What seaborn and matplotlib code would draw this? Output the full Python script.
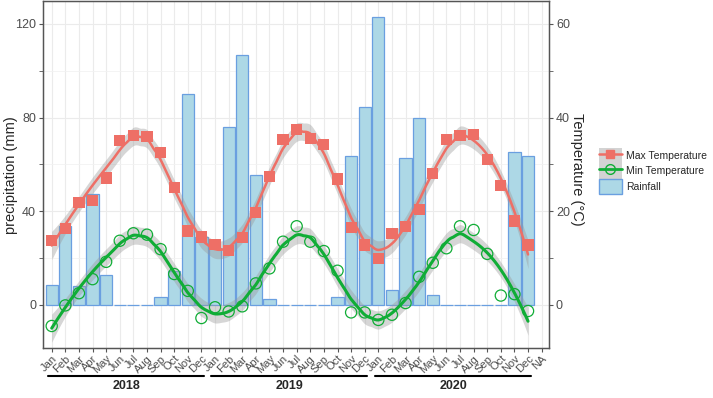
import numpy as np
import pandas as pd
import matplotlib.pyplot as plt
import seaborn as sns
from matplotlib.lines import Line2D
from matplotlib.patches import Patch

#%% DATA

month_names = ['Jan', 'Feb', 'Mar', 'Apr', 'May', 'Jun',
               'Jul', 'Aug', 'Sep', 'Oct', 'Nov', 'Dec']
years = ['2018', '2019', '2020']
tick_labels = month_names * 3 + ['NA']

# monthly rainfall (mm), last entry is the NA category
rainfall = [8.5, 33.7, 8.0, 47.5, 12.6, 0, 0, 0, 3.3, 14.6, 90.2, 28.8,
            24.1, 76.2, 106.9, 55.3, 2.4, 0, 0, 0, 0, 3.5, 63.8, 84.7,
            123.0, 6.4, 62.6, 79.9, 4.4, 0, 0, 0, 0, 0, 65.5, 63.5,
            np.nan]

# max / min temperature (deg C)
max_temp = [13.8, 16.4, 21.8, 22.3, 27.1, 35.1, 36.1, 36.0, 32.6, 25.0, 15.8, 14.5,
            12.9, 11.7, 14.4, 19.7, 27.4, 35.3, 37.5, 35.5, 34.3, 26.9, 16.6, 12.8,
            9.9, 15.3, 16.8, 20.4, 28.1, 35.3, 36.2, 36.4, 31.0, 25.5, 17.9, 12.8]
min_temp = [-4.5, -0.1, 2.5, 5.5, 9.2, 13.7, 15.3, 15.0, 11.9, 6.6, 3.0, -2.8,
            -0.5, -1.4, -0.3, 4.6, 7.8, 13.5, 16.8, 13.5, 11.5, 7.3, -1.6, -1.6,
            -3.2, -2.1, 0.4, 6.0, 9.0, 12.1, 16.8, 16.0, 10.9, 2.0, 2.3, -1.3]

rain_df = pd.DataFrame({'cat': [f'{i:02d}' for i in range(len(rainfall))],
                        'Rainfall': rainfall})
temp_df = pd.DataFrame({'pos': np.arange(len(max_temp)),
                        'Max': max_temp, 'Min': min_temp})

#%% LOESS SMOOTH (local quadratic, tricube weights) with 95% band

def loess(x, y, xs, span=0.28, deg=2):
    n = len(x)
    k = int(np.ceil(span * n))

    def row(x0):
        d = np.abs(x - x0)
        h = np.sort(d)[k - 1] * 1.0001
        w = np.clip(1 - (d / h) ** 3, 0, None) ** 3
        X = np.vander(x - x0, deg + 1, increasing=True)
        XtW = X.T * w
        return np.linalg.solve(XtW @ X, XtW)[0]

    L = np.array([row(v) for v in x])
    resid = y - L @ y
    dof = n - np.trace(L)
    sigma = np.sqrt(np.sum(resid ** 2) / dof)
    Ls = np.array([row(v) for v in xs])
    fit = Ls @ y
    se = sigma * np.sqrt(np.sum(Ls ** 2, axis=1))
    return fit, 2.03 * se

#%% PLOT

sns.set_style('white')
plt.rcParams['font.family'] = ['Liberation Sans', 'DejaVu Sans']

fig = plt.figure(figsize=(7.13, 3.98), dpi=100)
ax = fig.add_axes([43 / 713, 50 / 398, 506 / 713, 347 / 398])

red = '#EE6F66'
green = '#10AD36'

sns.barplot(data=rain_df, x='cat', y='Rainfall', ax=ax, width=0.9,
            color='#ADD8E6', edgecolor='#6A9FE0', linewidth=0.9,
            saturation=1, zorder=2)

ax.set_xlim(-0.64, 36.54)
ax.set_ylim(-18.4, 129.8)
ax.set_yticks([0, 40, 80, 120])
ax.set_yticks([20, 60, 100], minor=True)
ax.set_xticks(np.arange(len(tick_labels)))
ax.set_xticklabels(tick_labels, rotation=45, ha='right',
                   rotation_mode='anchor', fontsize=8, color='#4D4D4D')
ax.tick_params(axis='y', which='both', labelsize=9, labelcolor='#4D4D4D',
               length=3, color='#555555', left=True, pad=2)
ax.tick_params(axis='x', length=3, color='#555555', bottom=True, pad=1)
ax.grid(True, which='major', color='#EBEBEB', lw=0.8, zorder=0)
ax.grid(True, which='minor', axis='y', color='#F2F2F2', lw=0.6, zorder=0)
ax.set_axisbelow(True)
ax.set_xlabel('')
ax.set_ylabel('')
for s in ax.spines.values():
    s.set_color('#555555')
    s.set_linewidth(1)

# secondary axis for temperature (ylim = primary / 2)
ax2 = ax.twinx()

x = temp_df['pos'].to_numpy(float)
xs = np.linspace(x.min(), x.max(), 300)
for col, c in [('Max', red), ('Min', green)]:
    fit, band = loess(x, temp_df[col].to_numpy(float), xs)
    ax2.fill_between(xs, fit - band, fit + band, color='#999999',
                     alpha=0.4, lw=0, zorder=3)
    ax2.plot(xs, fit, color=c, lw=1.8 if col == 'Max' else 2.2, zorder=4)

sns.scatterplot(data=temp_df, x='pos', y='Max', ax=ax2, marker='s', s=65,
                color=red, edgecolor='none', zorder=5)
sns.scatterplot(data=temp_df, x='pos', y='Min', ax=ax2, marker='o', s=65,
                facecolor='none', edgecolor=green, linewidth=0.9, zorder=5)

ax2.set_xlim(-0.64, 36.54)
ax2.set_ylim(-18.4 / 2, 129.8 / 2)
ax2.set_yticks([0, 20, 40, 60])
ax2.set_yticks([10, 30, 50], minor=True)
ax2.tick_params(axis='y', which='both', labelsize=9, labelcolor='#4D4D4D',
                length=3, color='#555555', right=True, pad=2)
ax2.set_xlabel('')
ax2.set_ylabel('')
for s in ax2.spines.values():
    s.set_color('#555555')

fig.text(11 / 713, 0.56, 'precipitation (mm)', rotation=90, fontsize=10.5,
         ha='center', va='center')
fig.text(577 / 713, 0.575, 'Temperature (°C)', rotation=-90, fontsize=10.5,
         ha='center', va='center')

# year groups under the month labels
trans = ax.get_xaxis_transform()
for i, yr in enumerate(years):
    start, end = i * 12, i * 12 + 11
    ax.plot([start - 0.27, end + 0.2], [-0.081, -0.081], color='black',
            lw=1.5, transform=trans, clip_on=False)
    ax.text((start + end) / 2, -0.11, yr, transform=trans, ha='center',
            va='center', fontsize=9, fontweight='bold')

# legend
handles = [(Patch(facecolor='#D3D3D3', edgecolor='none'),
            Line2D([], [], color=red, lw=1.8, marker='s', markersize=6)),
           (Patch(facecolor='#D3D3D3', edgecolor='none'),
            Line2D([], [], color=green, lw=2, marker='o', markersize=7,
                   markerfacecolor='none')),
           Patch(facecolor='#ADD8E6', edgecolor='#6A9FE0')]
fig.legend(handles, ['Max Temperature', 'Min Temperature', 'Rainfall'],
           loc='center left', bbox_to_anchor=(0.84, 0.57), frameon=False,
           fontsize=7.5, handlelength=2.2, handleheight=1.9, labelspacing=0.0,
           handletextpad=0.4, borderpad=0, borderaxespad=0)

fig.savefig('out.png', dpi=100)
